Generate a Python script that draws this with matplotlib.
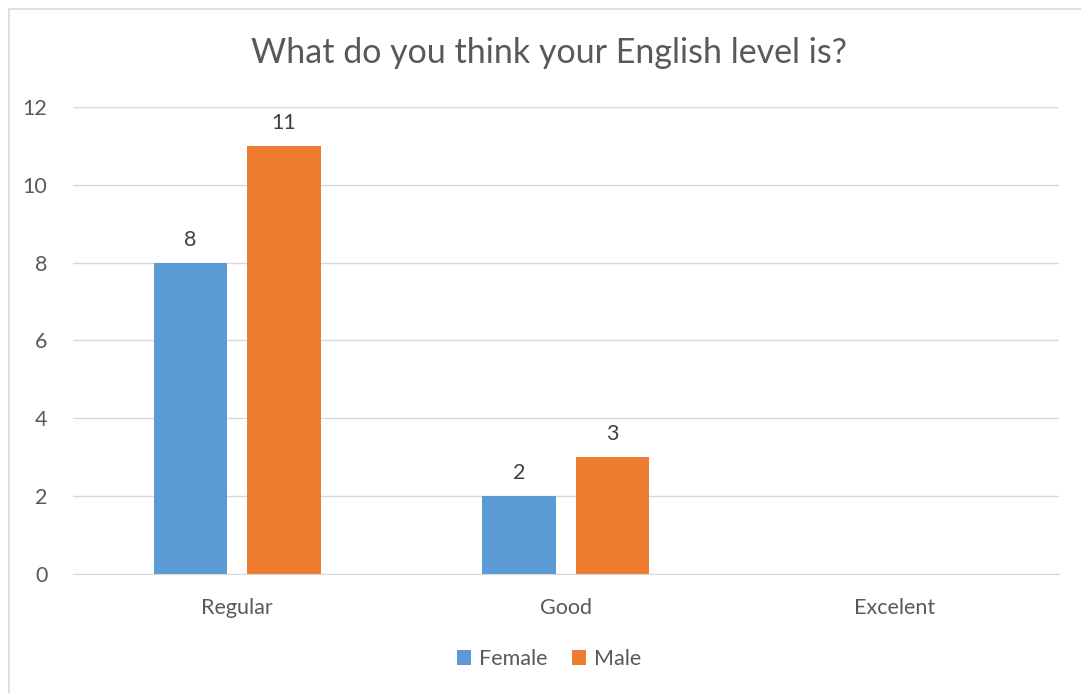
import numpy as np
import matplotlib.pyplot as plt
from matplotlib.patches import Rectangle

categories = ['Regular', 'Good', 'Excelent']
female = [8, 2, np.nan]
male = [11, 3, np.nan]

plt.rcParams['font.family'] = ['Lato', 'DejaVu Sans']
text_color = '#595959'

fig = plt.figure(figsize=(10.81, 6.93), dpi=100)
ax = fig.add_axes([0.0675, 0.1724, 0.912, 0.6732])

# chart border
fig.patches.append(Rectangle((9 / 1081, -0.1), 1.2, (1 - 9 / 693) + 0.1,
                             transform=fig.transFigure, fill=False,
                             edgecolor='#D9D9D9', linewidth=1.2))

x = np.arange(len(categories))
w = 0.224
b1 = ax.bar(x - 0.142, female, w, color='#5B9BD5', label='Female')
b2 = ax.bar(x + 0.142, male, w, color='#ED7D31', label='Male')

for bars, vals in [(b1, female), (b2, male)]:
    for bar, v in zip(bars, vals):
        if np.isnan(v):
            continue
        ax.text(bar.get_x() + bar.get_width() / 2, v + 0.33, str(int(v)),
                ha='center', va='bottom', fontsize=15.5, color='#404040')

ax.set_xlim(-0.5, 2.5)
ax.set_ylim(0, 12)
ax.set_yticks(range(0, 13, 2))
ax.set_xticks(x)
ax.set_xticklabels(categories)
ax.grid(axis='y', color='#D9D9D9', linewidth=1)
ax.set_axisbelow(True)
for s in ['top', 'right', 'left']:
    ax.spines[s].set_visible(False)
ax.spines['bottom'].set_color('#D9D9D9')
ax.tick_params(axis='both', length=0, labelsize=15.5, colors=text_color)
ax.tick_params(axis='y', pad=18.5)
ax.tick_params(axis='x', pad=17.5)

fig.text(0.508, 1 - 53 / 693, 'What do you think your English level is?',
         ha='center', va='center', fontsize=24.5, color=text_color)

fig.legend(handles=[b1, b2], loc='center', bbox_to_anchor=(0.508, 1 - 659 / 693),
           ncol=2, frameon=False, fontsize=15.5, handlelength=0.65,
           handleheight=0.65, handletextpad=0.4, columnspacing=1.1,
           labelcolor=text_color)

fig.savefig('out.png', dpi=100)
